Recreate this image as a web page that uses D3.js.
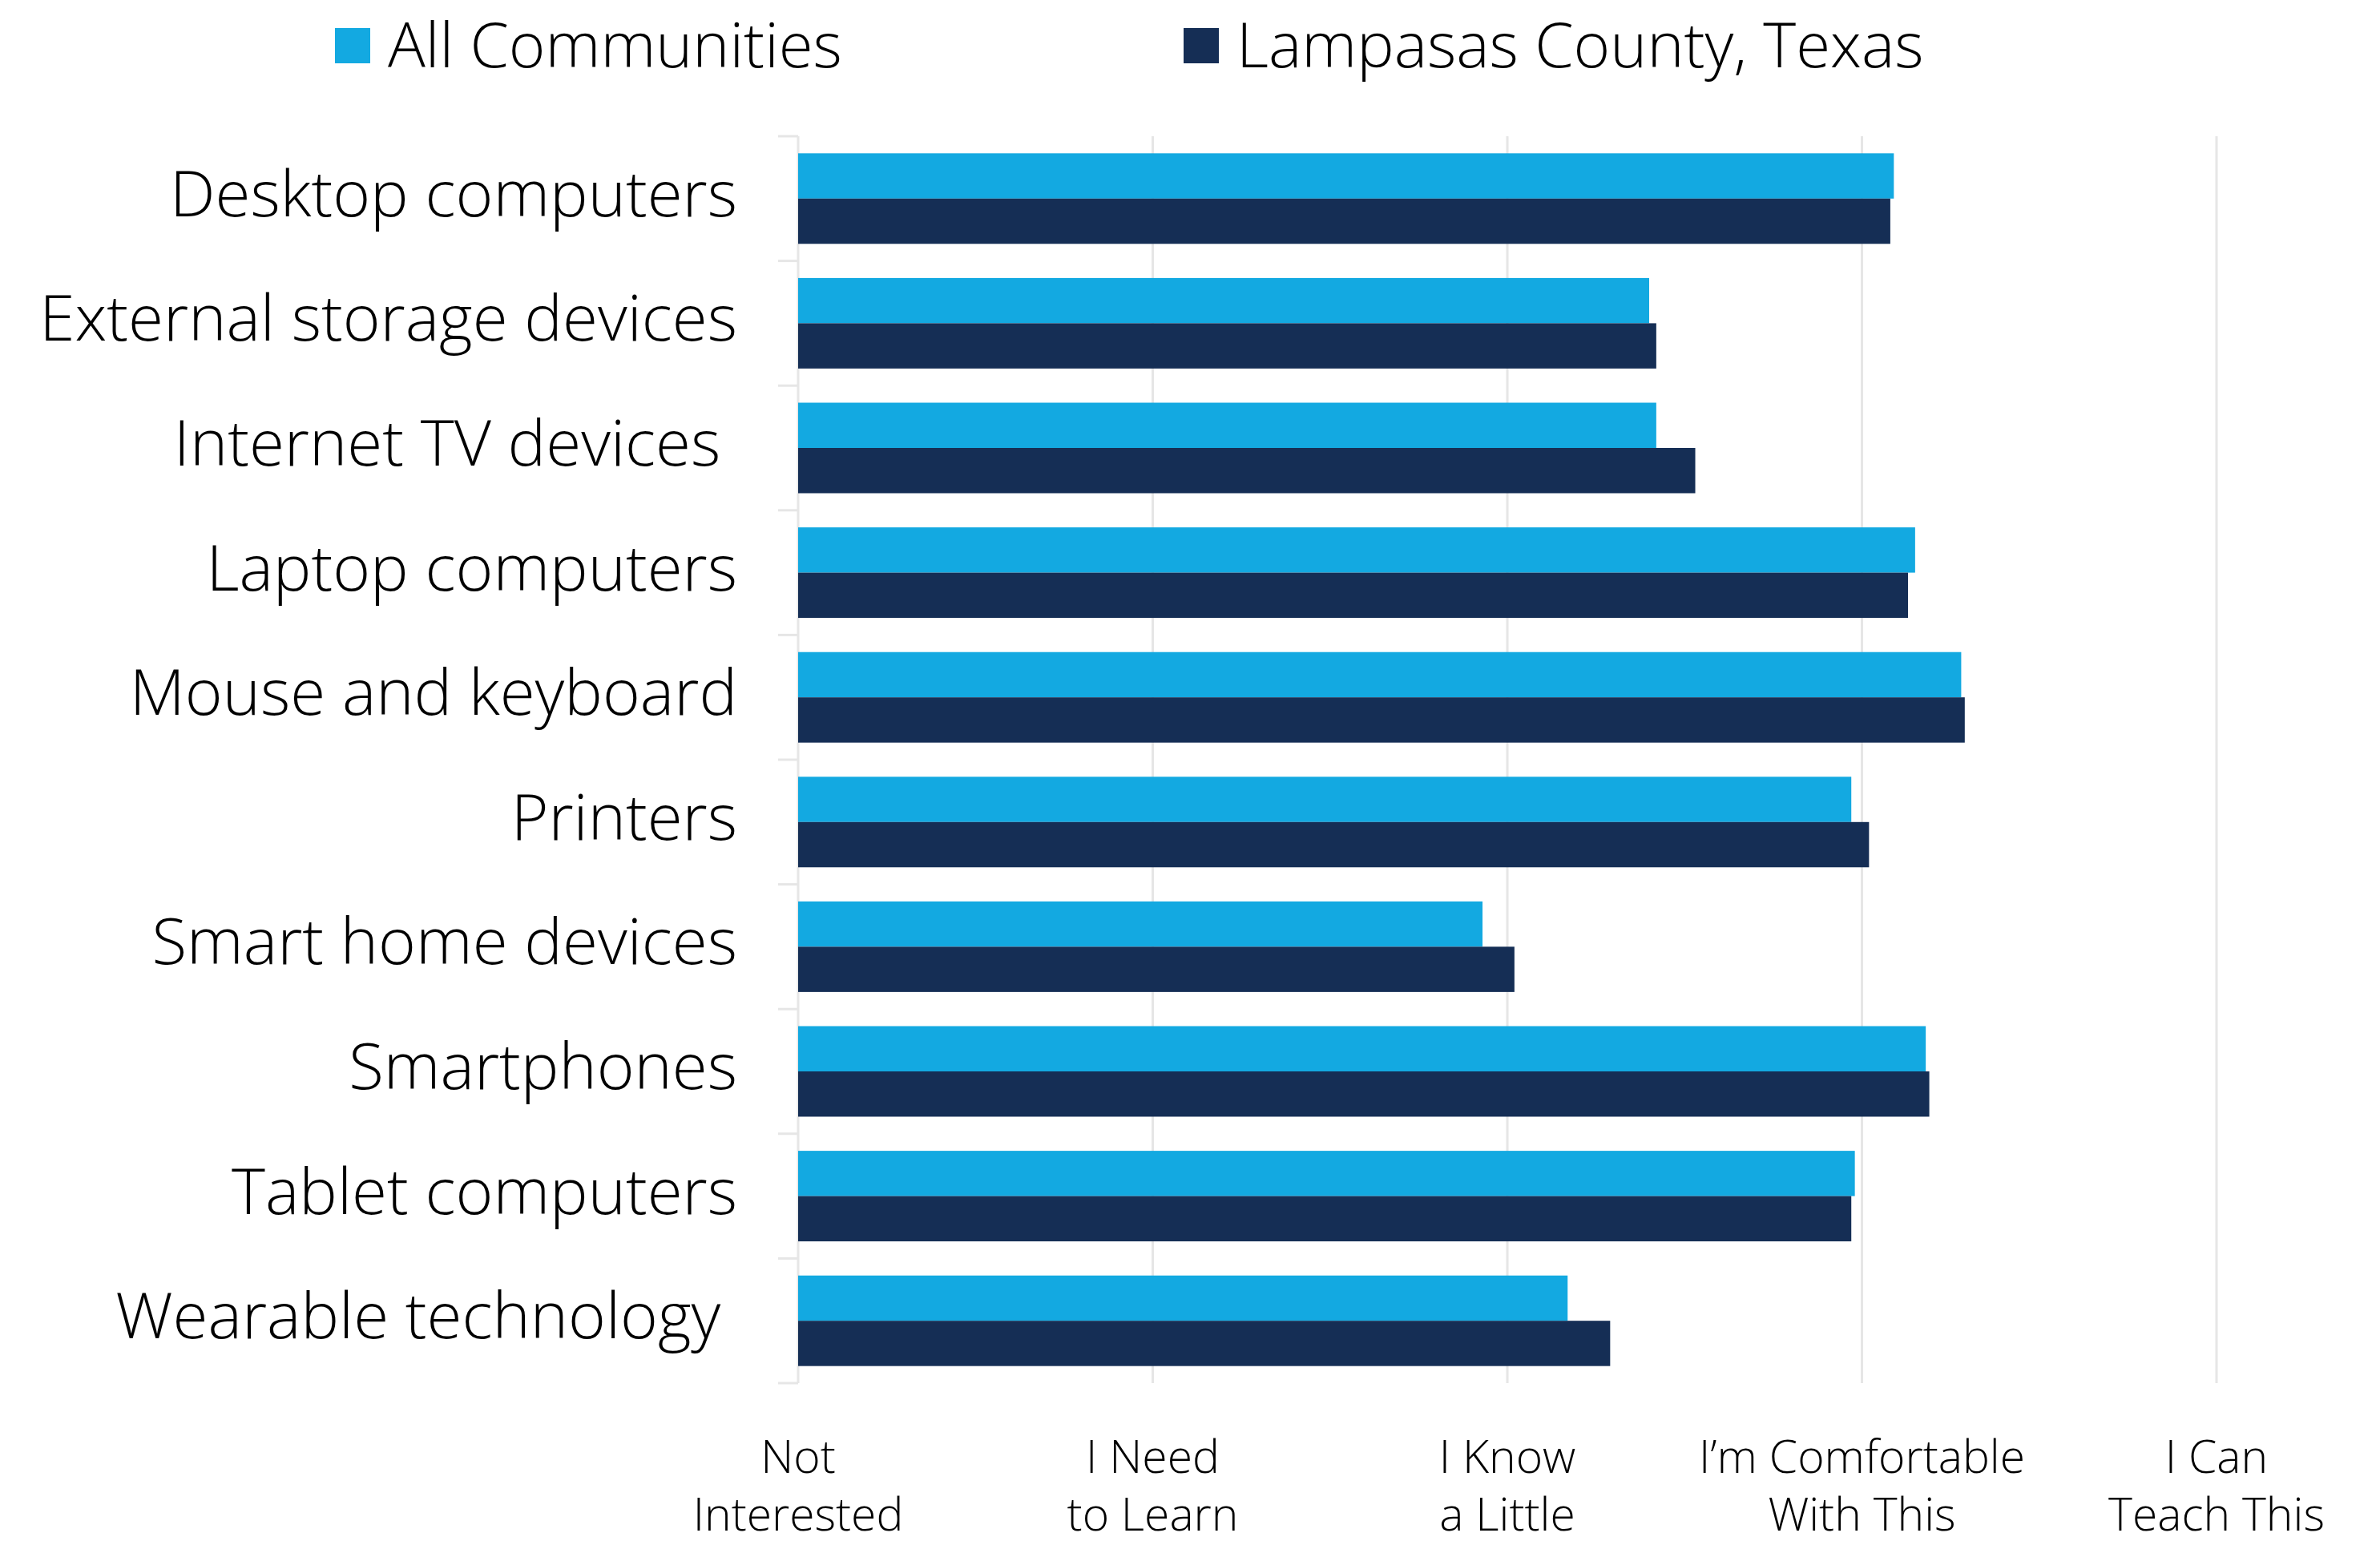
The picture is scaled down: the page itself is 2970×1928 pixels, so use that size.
<!DOCTYPE html>
<html>
<head>
<meta charset="utf-8">
<script src="https://cdn.jsdelivr.net/npm/d3@7"></script>
<style>
  html, body { margin: 0; padding: 0; background: #ffffff; }
  svg { display: block; }
  text { font-family: "Open Sans", "Noto Sans", sans-serif; font-weight: 300; fill: #000; }
</style>
</head>
<body>
<svg id="chart" width="2970" height="1928"></svg>
<script>
const categories = [
  "Desktop computers",
  "External storage devices",
  "Internet TV devices ",
  "Laptop computers",
  "Mouse and keyboard",
  "Printers",
  "Smart home devices",
  "Smartphones",
  "Tablet computers",
  "Wearable technology "
];
const seriesNames = ["All Communities", "Lampasas County, Texas"];
const allCommunities = [3.09, 2.40, 2.42, 3.15, 3.28, 2.97, 1.93, 3.18, 2.98, 2.17];
const lampasas      = [3.08, 2.42, 2.53, 3.13, 3.29, 3.02, 2.02, 3.19, 2.97, 2.29];
const tickValues = [0, 1, 2, 3, 4];
const tickLabels = [
  ["Not", "Interested"],
  ["I Need", "to Learn"],
  ["I Know", "a Little"],
  ["I\u2019m Comfortable", "With This"],
  ["I Can", "Teach This"]
];
const colors = ["#13a9e1", "#152e55"];

const svg = d3.select("#chart");

const x = d3.scaleLinear().domain([0, 4]).range([996, 2766]);
const y0 = d3.scaleBand().domain(categories).range([170, 1726])
  .paddingInner(0.274).paddingOuter(0.137);
const y1 = d3.scaleBand().domain(seriesNames).range([0, y0.bandwidth()]);
const color = d3.scaleOrdinal().domain(seriesNames).range(colors);

const [yTop, yBottom] = y0.range();

// gridlines (including axis at 0)
svg.append("g").selectAll("line").data(tickValues).join("line")
  .attr("x1", d => x(d)).attr("x2", d => x(d))
  .attr("y1", yTop).attr("y2", yBottom)
  .attr("stroke", "#e6e6e6").attr("stroke-width", 3);

// left category tick marks at band boundaries
const boundaries = d3.range(categories.length + 1).map(i => yTop + i * y0.step());
svg.append("g").selectAll("line").data(boundaries).join("line")
  .attr("x1", x(0) - 25).attr("x2", x(0))
  .attr("y1", d => d).attr("y2", d => d)
  .attr("stroke", "#e6e6e6").attr("stroke-width", 3);

// bars
const rows = categories.map((c, i) => ({ cat: c, values: [allCommunities[i], lampasas[i]] }));
const groups = svg.append("g").selectAll("g").data(rows).join("g")
  .attr("transform", d => `translate(0,${y0(d.cat)})`);
groups.selectAll("rect")
  .data(d => seriesNames.map((s, j) => ({ s, v: d.values[j] })))
  .join("rect")
  .attr("x", x(0))
  .attr("y", d => y1(d.s))
  .attr("width", d => x(d.v) - x(0))
  .attr("height", y1.bandwidth())
  .attr("fill", d => color(d.s));

// category labels
svg.append("g").selectAll("text").data(categories).join("text")
  .attr("x", 920)
  .attr("y", d => y0(d) + y0.bandwidth() / 2 + 22)
  .attr("text-anchor", "end")
  .style("white-space", "pre")
  .attr("font-size", 80)
  .text(d => d);

// x tick labels (two lines)
const xl = svg.append("g").selectAll("text").data(tickValues).join("text")
  .attr("text-anchor", "middle")
  .attr("font-size", 57);
xl.each(function(d, i) {
  const t = d3.select(this);
  tickLabels[i].forEach((line, k) => {
    t.append("tspan").attr("x", x(d)).attr("y", 1838 + k * 72).text(line);
  });
});

// legend
const legendX = [418, 1477];
const lg = svg.append("g").selectAll("g").data(seriesNames).join("g")
  .attr("transform", (d, i) => `translate(${legendX[i]},35)`);
lg.append("rect").attr("width", 44).attr("height", 44).attr("fill", d => color(d));
lg.append("text").attr("x", 66).attr("y", 49).attr("font-size", 78).text(d => d);
</script>
</body>
</html>
